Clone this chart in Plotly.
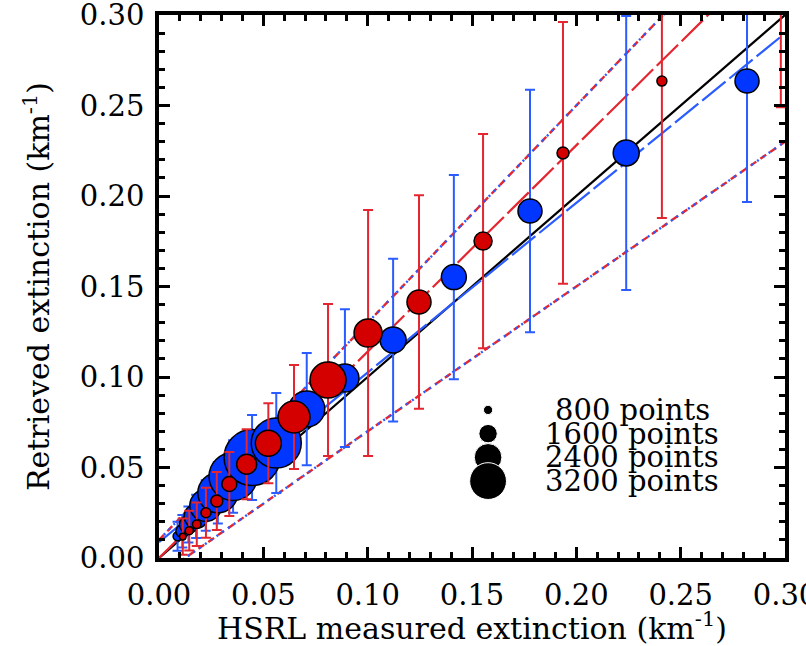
import plotly.graph_objects as go

# --- binned retrieval vs HSRL extinction (km^-1) ---
blue_x = [0.0089, 0.0112, 0.0141, 0.0178, 0.0224, 0.0282, 0.0355, 0.0446,
          0.0562, 0.0708, 0.0891, 0.1122, 0.1413, 0.1778, 0.2239, 0.2818]
blue_y = [0.0120, 0.0148, 0.0185, 0.0230, 0.0290, 0.0360, 0.0450, 0.0555,
          0.0635, 0.0823, 0.0994, 0.1204, 0.1552, 0.1917, 0.2238, 0.2635]
blue_err = [0.008, 0.009, 0.010, 0.012, 0.014, 0.017, 0.020, 0.0235,
            0.0276, 0.031, 0.0381, 0.045, 0.0564, 0.067, 0.0757, 0.0668]
blue_n = [780, 1130, 1570, 2090, 2780, 3480, 4180, 4870,
          4350, 3130, 2440, 2260, 2170, 2090, 2260, 2090]

red_x = [0.0114, 0.0145, 0.0181, 0.0225, 0.0277, 0.0337, 0.0420, 0.0524,
         0.0647, 0.0810, 0.1002, 0.1246, 0.1553, 0.1936, 0.2410, 0.2980]
red_y = [0.0118, 0.0151, 0.0186, 0.0250, 0.0315, 0.0409, 0.0518, 0.0634,
         0.0779, 0.0983, 0.1243, 0.1414, 0.1751, 0.2238, 0.2635, 0.3250]
red_err = [0.010, 0.011, 0.012, 0.0138, 0.016, 0.0177, 0.0193, 0.0221,
           0.0287, 0.042, 0.068, 0.059, 0.0592, 0.0723, 0.0757, 0.0760]
red_n = [570, 700, 740, 870, 1040, 1300, 1740, 2260,
         2780, 3130, 2440, 2090, 1570, 1040, 870, 870]

# size key
key_n = [800, 1600, 2400, 3200]
key_labels = ["800 points", "1600 points", "2400 points", "3200 points"]

# axis ticks
tick_vals = [0.0, 0.05, 0.10, 0.15, 0.20, 0.25, 0.30]
tick_text = ["0.00", "0.05", "0.10", "0.15", "0.20", "0.25", "0.30"]

# fitted lines and uncertainty envelope  y = a*x + b
red_fit = (1.140, 0.0)
blue_fit = (0.937, 0.0088)
env_hi = (1.2, 0.01)
env_lo = (0.8, -0.01)

X0, X1 = 0.0, 0.3
BLUE = "#0036ff"
BLUE_L = "#2a5cff"
RED = "#d40000"
RED_L = "#e3262f"
SIZEREF = 800 / 9.2   # points per pixel of diameter

FONT = "DejaVu Serif"

fig = go.Figure()


def line(fit, color, dash, width=2.2):
    a, b = fit
    fig.add_trace(go.Scatter(x=[X0, X1], y=[a * X0 + b, a * X1 + b], mode="lines",
                             line=dict(color=color, width=width, dash=dash),
                             hoverinfo="skip", showlegend=False))


# reference lines
line((1.0, 0.0), "black", "solid", 2.2)
line(blue_fit, BLUE_L, "30px,5px")
line(red_fit, RED_L, "30px,5px")
line(env_hi, RED_L, "7px,5px", 2.4)
line(env_hi, BLUE_L, "2px,5px", 2.4)
line(env_lo, RED_L, "7px,5px", 2.4)
line(env_lo, BLUE_L, "2px,5px", 2.4)


def points(x, y, err, n, fill, barcol):
    fig.add_trace(go.Scatter(
        x=x, y=y, mode="markers",
        marker=dict(size=n, sizemode="diameter", sizeref=SIZEREF, color=fill,
                    opacity=1, line=dict(color="black", width=1.5)),
        error_y=dict(type="data", array=err, visible=True, color=barcol,
                     thickness=2, width=5),
        hoverinfo="skip", showlegend=False))


points(blue_x, blue_y, blue_err, blue_n, BLUE, BLUE_L)
points(red_x, red_y, red_err, red_n, RED, RED_L)

# point-count key
KEY_X = 0.1577
KEY_Y0 = 0.0818
KEY_DY = -0.0131
key_y = [KEY_Y0 + i * KEY_DY for i in range(len(key_n))]
fig.add_trace(go.Scatter(
    x=[KEY_X] * len(key_n), y=key_y, mode="markers",
    marker=dict(size=key_n, sizemode="diameter", sizeref=SIZEREF, color="black",
                opacity=1),
    hoverinfo="skip", showlegend=False))
for ky, lab in zip(key_y, key_labels):
    fig.add_annotation(x=0.2268, y=ky, text=lab, showarrow=False,
                       xanchor="center", yanchor="middle",
                       font=dict(family=FONT, size=29, color="black"))

axis_common = dict(
    range=[0, 0.3], tickmode="array", tickvals=tick_vals, ticktext=tick_text,
    ticklabeloverflow="allow", automargin=False,
    showgrid=False, zeroline=False,
    showline=True, linecolor="black", linewidth=3.5, mirror="ticks",
    ticks="inside", ticklen=11, tickwidth=2.5, tickcolor="black",
    minor=dict(dtick=0.01, tick0=0, ticks="inside", ticklen=6, tickwidth=2.5,
               tickcolor="black", showgrid=False),
    tickfont=dict(family=FONT, size=29, color="black"),
)

fig.update_layout(
    width=806, height=646,
    margin=dict(l=159, r=21, t=15, b=88),
    paper_bgcolor="white", plot_bgcolor="white",
    xaxis=dict(**axis_common, ticklabelstandoff=8,
               title=dict(text="HSRL measured extinction (km<sup>-1</sup>)",
                          font=dict(family=FONT, size=30, color="black"),
                          standoff=4)),
    yaxis=dict(**axis_common, ticklabelstandoff=5,
               title=dict(text="Retrieved extinction (km<sup>-1</sup>)",
                          font=dict(family=FONT, size=30, color="black"),
                          standoff=22)),
)

fig.write_html("out.html")
